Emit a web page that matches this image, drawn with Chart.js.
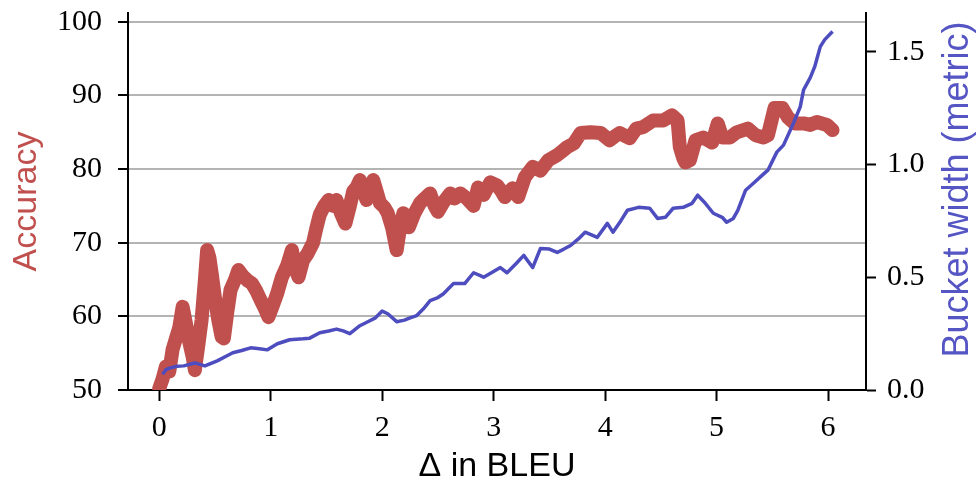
<!DOCTYPE html>
<html>
<head>
<meta charset="utf-8">
<script src="https://cdn.jsdelivr.net/npm/chart.js@4.4.1/dist/chart.umd.min.js"></script>
<style>
  body { margin: 0; background: #fff; }
  #wrap { width: 976px; height: 485px; }
</style>
</head>
<body>
<div id="wrap"><canvas id="myChart" width="976" height="485"></canvas></div>
<script>
// accuracy per bucket (left axis)
let accX = [0.00, 0.03, 0.06, 0.09, 0.12, 0.15, 0.18, 0.21, 0.24, 0.27, 0.30, 0.32, 0.35, 0.38, 0.41, 0.43, 0.45, 0.47, 0.50, 0.53,
  0.56, 0.58, 0.61, 0.64, 0.68, 0.71, 0.75, 0.79, 0.83, 0.87, 0.91, 0.95, 0.98, 1.02, 1.06, 1.10, 1.15, 1.19, 1.22, 1.25,
  1.29, 1.33, 1.38, 1.41, 1.44, 1.48, 1.52, 1.56, 1.59, 1.63, 1.67, 1.71, 1.74, 1.77, 1.80, 1.83, 1.86, 1.89, 1.92, 1.95,
  1.98, 2.02, 2.05, 2.09, 2.13, 2.16, 2.19, 2.22, 2.24, 2.29, 2.34, 2.38, 2.43, 2.47, 2.50, 2.55, 2.61, 2.65, 2.70, 2.76,
  2.82, 2.86, 2.91, 2.97, 3.03, 3.07, 3.10, 3.17, 3.22, 3.28, 3.35, 3.42, 3.49, 3.57, 3.62, 3.66, 3.72, 3.78, 3.87, 3.96,
  4.04, 4.09, 4.13, 4.18, 4.22, 4.28, 4.34, 4.43, 4.52, 4.60, 4.65, 4.67, 4.70, 4.72, 4.76, 4.81, 4.88, 4.96, 5.01, 5.05,
  5.12, 5.18, 5.28, 5.35, 5.42, 5.46, 5.52, 5.59, 5.64, 5.70, 5.78, 5.84, 5.90, 5.99, 6.04];
let accY = [50.2, 51.5, 53.2, 52.5, 55.5, 57.0, 58.5, 61.3, 59.0, 56.5, 54.5, 52.7, 56.0, 59.5, 65.0, 69.0, 68.0, 65.9, 62.5, 59.5,
  57.2, 57.0, 60.5, 63.6, 65.0, 66.3, 65.5, 64.9, 64.5, 63.5, 62.2, 61.0, 59.9, 61.5, 63.2, 65.3, 67.0, 69.0, 66.5, 65.3,
  67.6, 68.5, 70.0, 72.0, 73.8, 75.0, 75.8, 75.0, 75.8, 74.0, 72.6, 75.0, 77.0, 77.5, 78.5, 77.0, 75.8, 77.5, 78.5, 77.0,
  75.4, 74.8, 74.0, 72.0, 69.0, 72.0, 74.0, 73.5, 72.1, 74.0, 75.4, 76.0, 76.7, 75.0, 74.2, 75.5, 76.7, 76.0, 76.7, 76.0,
  75.0, 77.5, 76.5, 78.2, 77.8, 77.0, 76.2, 77.4, 76.2, 78.9, 80.3, 79.8, 81.2, 81.9, 82.5, 83.0, 83.5, 84.9, 85.0, 84.9,
  83.9, 84.5, 84.9, 84.5, 84.2, 85.5, 85.7, 86.6, 86.6, 87.3, 86.6, 83.0, 81.5, 80.9, 81.2, 83.9, 84.3, 83.6, 86.2, 84.3,
  84.3, 85.0, 85.5, 84.6, 84.3, 84.6, 88.3, 88.3, 87.0, 86.2, 86.2, 86.0, 86.4, 86.0, 85.3];

// bucket width (right axis)
let widthX = [0.03, 0.06, 0.10, 0.16, 0.22, 0.32, 0.41, 0.52, 0.60, 0.66, 0.74, 0.82, 0.90, 0.97, 1.06, 1.17, 1.29, 1.35, 1.44, 1.52,
  1.59, 1.65, 1.71, 1.80, 1.88, 1.94, 2.00, 2.05, 2.13, 2.20, 2.25, 2.31, 2.37, 2.43, 2.50, 2.55, 2.64, 2.74, 2.82, 2.88,
  2.91, 2.98, 3.06, 3.12, 3.20, 3.27, 3.35, 3.42, 3.50, 3.57, 3.63, 3.69, 3.76, 3.82, 3.93, 4.02, 4.07, 4.14, 4.20, 4.30,
  4.40, 4.47, 4.54, 4.61, 4.70, 4.78, 4.83, 4.89, 4.97, 5.05, 5.09, 5.15, 5.19, 5.26, 5.33, 5.41, 5.46, 5.54, 5.60, 5.69,
  5.75, 5.78, 5.84, 5.88, 5.93, 5.97, 6.04];
let widthY = [0.070, 0.090, 0.098, 0.105, 0.107, 0.120, 0.107, 0.129, 0.150, 0.165, 0.175, 0.187, 0.183, 0.178, 0.205, 0.223, 0.227, 0.230, 0.254, 0.262,
  0.270, 0.262, 0.250, 0.285, 0.305, 0.320, 0.350, 0.338, 0.303, 0.310, 0.320, 0.330, 0.360, 0.396, 0.410, 0.427, 0.472, 0.472, 0.520, 0.507,
  0.500, 0.520, 0.543, 0.520, 0.560, 0.597, 0.543, 0.628, 0.625, 0.610, 0.625, 0.641, 0.670, 0.700, 0.677, 0.739, 0.700, 0.750, 0.797, 0.810,
  0.806, 0.761, 0.766, 0.806, 0.810, 0.828, 0.864, 0.833, 0.784, 0.766, 0.744, 0.761, 0.797, 0.886, 0.917, 0.953, 0.975, 1.055, 1.086, 1.184,
  1.256, 1.331, 1.385, 1.434, 1.523, 1.554, 1.590];

let xTicks = [0, 1, 2, 3, 4, 5, 6];
let accTicks = [50, 60, 70, 80, 90, 100];
let widthTicks = [0, 0.5, 1.0, 1.5];

const RED = '#c0504d';
const BLUE = '#4d4dbf';
const tickFont = { family: '"Liberation Serif", serif', size: 30 };

function toPoints(xs, ys) {
  let pts = [];
  for (let i = 0; i < xs.length; i++) {
    pts.push({ x: xs[i], y: ys[i] });
  }
  return pts;
}

function fixedTicks(values) {
  return function(scale) {
    scale.ticks = values.map(v => ({ value: v }));
  };
}

// right axis label reads bottom-to-top, so it is drawn by hand
const rightTitle = {
  id: 'rightTitle',
  afterDraw(chart) {
    let s = chart.scales.yWidth;
    let ctx = chart.ctx;
    ctx.save();
    ctx.translate(958, (s.top + s.bottom) / 2 - 12);
    ctx.rotate(-Math.PI / 2);
    ctx.font = '36px "Liberation Sans", sans-serif';
    ctx.fillStyle = '#5555c4';
    ctx.textAlign = 'center';
    ctx.textBaseline = 'middle';
    ctx.fillText('Bucket width (metric)', 0, 0);
    ctx.restore();
  }
};

const ctx = document.getElementById('myChart').getContext('2d');
const myChart = new Chart(ctx, {
  type: 'line',
  data: {
    datasets: [{
      label: 'Accuracy',
      data: toPoints(accX, accY),
      yAxisID: 'yAcc',
      borderColor: RED,
      borderWidth: 14,
      borderJoinStyle: 'round',
      borderCapStyle: 'round',
      pointRadius: 0,
      tension: 0,
      clip: 0,
      order: 2
    }, {
      label: 'Bucket width',
      data: toPoints(widthX, widthY),
      yAxisID: 'yWidth',
      borderColor: BLUE,
      borderWidth: 3.5,
      borderJoinStyle: 'round',
      pointRadius: 0,
      tension: 0,
      order: 1
    }]
  },
  options: {
    responsive: false,
    animation: false,
    devicePixelRatio: 1,
    layout: { padding: { top: 13, left: 0, right: 0, bottom: 0 } },
    plugins: {
      legend: { display: false },
      tooltip: { enabled: false }
    },
    scales: {
      x: {
        type: 'linear',
        position: 'bottom',
        min: -0.28,
        max: 6.34,
        afterBuildTicks: fixedTicks(xTicks),
        afterFit(scale) {
          scale.height = 95;
          scale.paddingLeft = 0;
          scale.paddingRight = 0;
        },
        grid: { display: true, drawOnChartArea: false, drawTicks: true, tickLength: 11, tickColor: '#000', tickWidth: 2 },
        border: { display: true, color: '#000', width: 2 },
        ticks: { color: '#000', font: tickFont, padding: 9, maxRotation: 0, callback: v => String(v) },
        title: {
          display: true,
          text: 'Δ in BLEU',
          color: '#000',
          font: { family: '"Liberation Sans", sans-serif', size: 34, lineHeight: 1 },
          padding: { top: 0, bottom: 1 }
        }
      },
      yAcc: {
        type: 'linear',
        position: 'left',
        min: 50,
        max: 101.2,
        afterBuildTicks: fixedTicks(accTicks),
        afterFit(scale) {
          scale.width = 128;
          scale.paddingTop = 0;
          scale.paddingBottom = 0;
        },
        grid: {
          display: true,
          drawOnChartArea: true,
          drawTicks: true,
          tickLength: 10,
          lineWidth: 2,
          color: c => (c.tick && c.tick.value === 50) ? 'rgba(0,0,0,0)' : '#b4b4b4',
          tickColor: '#000',
          tickWidth: 2
        },
        border: { display: true, color: '#000', width: 2 },
        ticks: { color: '#000', font: tickFont, padding: 16, callback: v => String(v) },
        title: {
          display: true,
          text: 'Accuracy',
          color: RED,
          font: { family: '"Liberation Sans", sans-serif', size: 34, lineHeight: 1 },
          padding: { top: 10, bottom: 0 }
        }
      },
      yWidth: {
        type: 'linear',
        position: 'right',
        min: 0,
        max: 1.672,
        afterBuildTicks: fixedTicks(widthTicks),
        afterFit(scale) {
          scale.width = 110;
          scale.paddingTop = 0;
          scale.paddingBottom = 0;
        },
        grid: { display: true, drawOnChartArea: false, drawTicks: true, tickLength: 10, tickColor: '#000', tickWidth: 2 },
        border: { display: true, color: '#000', width: 2 },
        ticks: { color: '#000', font: tickFont, padding: 11, callback: v => v.toFixed(1) },
        title: { display: false }
      }
    }
  },
  plugins: [rightTitle]
});
</script>
</body>
</html>
